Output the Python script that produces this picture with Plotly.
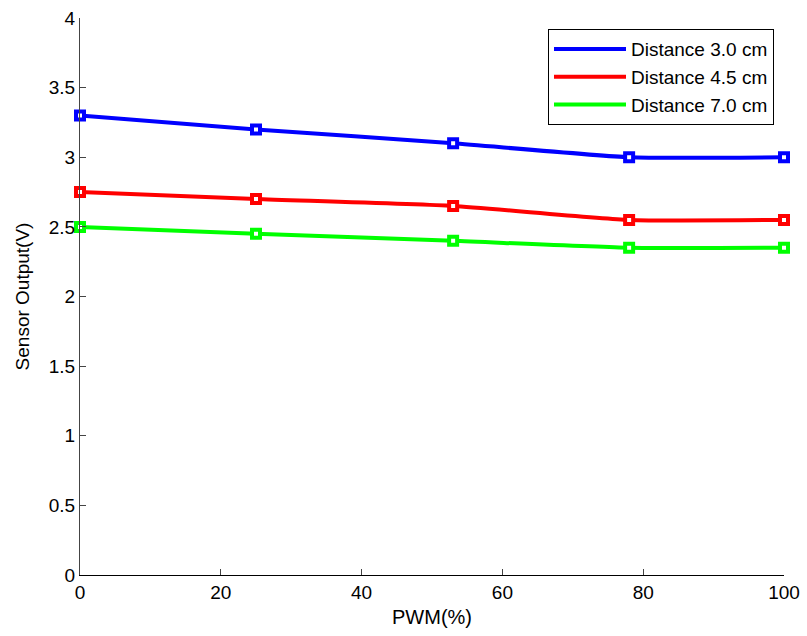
import plotly.graph_objects as go

pwm = [0, 25, 53, 78, 100]
d30 = [3.3, 3.2, 3.1, 3.0, 3.0]
d45 = [2.75, 2.7, 2.65, 2.55, 2.55]
d70 = [2.5, 2.45, 2.4, 2.35, 2.35]
names = ["Distance 3.0 cm", "Distance 4.5 cm", "Distance 7.0 cm"]
colors = ["#0000ff", "#ff0000", "#00ff00"]

fig = go.Figure()
for ys, name, c in zip([d30, d45, d70], names, colors):
    fig.add_trace(go.Scatter(
        x=pwm, y=ys, mode="lines+markers", showlegend=False, cliponaxis=False,
        line=dict(color=c, width=4, shape="spline", smoothing=0.5),
        marker=dict(symbol="square", size=8, color="white", line=dict(color=c, width=4)),
    ))
for name, c in zip(names, colors):
    fig.add_trace(go.Scatter(x=[None], y=[None], mode="lines", name=name,
                             line=dict(color=c, width=4)))

font = "Liberation Sans, Arial, sans-serif"
fig.update_layout(
    width=807, height=636,
    margin=dict(l=80, r=23, t=18, b=61, autoexpand=False),
    plot_bgcolor="white", paper_bgcolor="white",
    font=dict(family=font, size=19, color="black"),
    legend=dict(x=0.9858, y=0.98, xanchor="right", yanchor="top",
                bordercolor="black", borderwidth=1, bgcolor="white",
                font=dict(size=19), itemwidth=72, tracegroupgap=0),
    xaxis=dict(range=[0, 100], tickvals=[0, 20, 40, 60, 80, 100],
               ticks="inside", ticklen=6, tickcolor="#444", automargin=False,
               showline=True, linecolor="black", linewidth=1,
               showgrid=False, zeroline=False,
               title=dict(text="PWM(%)", font=dict(size=20), standoff=8)),
    yaxis=dict(range=[0, 4], tickvals=[0, 0.5, 1, 1.5, 2, 2.5, 3, 3.5, 4],
               ticktext=["0", "0.5", "1", "1.5", "2", "2.5", "3", "3.5", "4"],
               ticks="inside", ticklen=6, tickcolor="#444", automargin=False,
               showline=True, linecolor="#444", linewidth=1,
               showgrid=False, zeroline=False,
               title=dict(text="Sensor Output(V)", font=dict(size=19), standoff=14)),
)
fig.write_html("out.html")
